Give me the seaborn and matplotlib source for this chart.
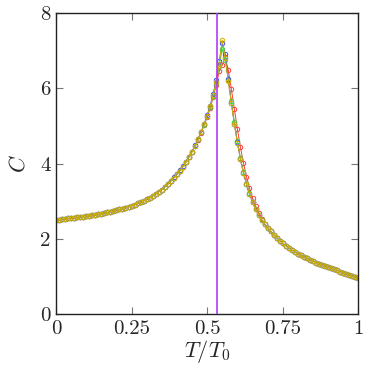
import numpy as np
import pandas as pd
import matplotlib
matplotlib.use("Agg")
import matplotlib.pyplot as plt
import seaborn as sns

sns.set_style("ticks")
plt.rcParams["font.family"] = "serif"
plt.rcParams["font.serif"] = ["cmr10", "DejaVu Serif"]
plt.rcParams["mathtext.fontset"] = "cm"
plt.rcParams["axes.unicode_minus"] = False

t_values = [round(i * 0.01, 2) for i in range(101)]

c_yellow = [2.50, 2.51, 2.52, 2.53, 2.54, 2.55, 2.56, 2.57, 2.58, 2.59,
            2.60, 2.61, 2.63, 2.64, 2.65, 2.67, 2.68, 2.70, 2.72, 2.74,
            2.76, 2.78, 2.80, 2.82, 2.85, 2.88, 2.91, 2.94, 2.97, 3.01,
            3.05, 3.09, 3.14, 3.19, 3.25, 3.31, 3.38, 3.45, 3.53, 3.62,
            3.71, 3.81, 3.92, 4.04, 4.17, 4.31, 4.47, 4.64, 4.83, 5.04,
            5.27, 5.52, 5.82, 6.18, 6.65, 7.28, 6.80, 6.20, 5.60, 5.05,
            4.55, 4.12, 3.76, 3.46, 3.20, 2.98, 2.80, 2.64, 2.50, 2.39,
            2.30, 2.20, 2.11, 2.03, 1.95, 1.88, 1.82, 1.76, 1.70, 1.65,
            1.60, 1.56, 1.52, 1.48, 1.44, 1.41, 1.37, 1.34, 1.31, 1.28,
            1.25, 1.22, 1.19, 1.16, 1.13, 1.10, 1.07, 1.04, 1.01, 0.99,
            0.96]

c_blue = [2.50, 2.51, 2.52, 2.53, 2.54, 2.55, 2.56, 2.57, 2.58, 2.59,
          2.60, 2.61, 2.63, 2.64, 2.65, 2.67, 2.68, 2.70, 2.72, 2.74,
          2.76, 2.78, 2.80, 2.82, 2.85, 2.88, 2.91, 2.94, 2.97, 3.01,
          3.05, 3.09, 3.14, 3.19, 3.25, 3.31, 3.38, 3.46, 3.54, 3.63,
          3.72, 3.82, 3.93, 4.05, 4.18, 4.32, 4.48, 4.65, 4.84, 5.05,
          5.28, 5.54, 5.85, 6.22, 6.72, 7.20, 6.90, 6.25, 5.62, 5.06,
          4.56, 4.12, 3.76, 3.46, 3.20, 2.98, 2.80, 2.64, 2.50, 2.39,
          2.30, 2.20, 2.11, 2.03, 1.95, 1.88, 1.82, 1.76, 1.70, 1.65,
          1.60, 1.56, 1.52, 1.48, 1.44, 1.41, 1.37, 1.34, 1.31, 1.28,
          1.25, 1.22, 1.19, 1.16, 1.13, 1.10, 1.07, 1.04, 1.01, 0.99,
          0.96]

c_green = [2.50, 2.51, 2.52, 2.53, 2.54, 2.55, 2.56, 2.57, 2.58, 2.59,
           2.60, 2.61, 2.63, 2.64, 2.65, 2.67, 2.68, 2.70, 2.72, 2.74,
           2.76, 2.78, 2.80, 2.82, 2.85, 2.88, 2.91, 2.94, 2.97, 3.01,
           3.05, 3.09, 3.14, 3.19, 3.25, 3.31, 3.38, 3.45, 3.53, 3.62,
           3.71, 3.81, 3.92, 4.04, 4.17, 4.31, 4.47, 4.64, 4.83, 5.03,
           5.26, 5.50, 5.80, 6.15, 6.60, 7.05, 6.75, 6.22, 5.66, 5.10,
           4.60, 4.15, 3.78, 3.47, 3.21, 2.99, 2.80, 2.64, 2.50, 2.39,
           2.30, 2.20, 2.11, 2.03, 1.95, 1.88, 1.82, 1.76, 1.70, 1.65,
           1.60, 1.56, 1.52, 1.48, 1.44, 1.41, 1.37, 1.34, 1.31, 1.28,
           1.25, 1.22, 1.19, 1.16, 1.13, 1.10, 1.07, 1.04, 1.01, 0.99,
           0.96]

c_red = [2.50, 2.51, 2.52, 2.53, 2.54, 2.55, 2.56, 2.57, 2.58, 2.59,
         2.60, 2.61, 2.63, 2.64, 2.65, 2.67, 2.68, 2.70, 2.72, 2.74,
         2.76, 2.78, 2.80, 2.82, 2.85, 2.88, 2.91, 2.94, 2.97, 3.01,
         3.05, 3.09, 3.14, 3.19, 3.25, 3.31, 3.38, 3.45, 3.53, 3.62,
         3.71, 3.81, 3.92, 4.04, 4.17, 4.31, 4.46, 4.63, 4.82, 5.02,
         5.24, 5.48, 5.76, 6.08, 6.45, 6.62, 6.82, 6.48, 5.98, 5.45,
         4.92, 4.44, 4.02, 3.65, 3.35, 3.08, 2.86, 2.68, 2.52, 2.40,
         2.30, 2.20, 2.11, 2.03, 1.95, 1.88, 1.82, 1.76, 1.70, 1.65,
         1.60, 1.56, 1.52, 1.48, 1.44, 1.41, 1.37, 1.34, 1.31, 1.28,
         1.25, 1.22, 1.19, 1.16, 1.13, 1.10, 1.07, 1.04, 1.01, 0.99,
         0.96]

series_names = ["red", "green", "blue", "yellow"]
series_values = [c_red, c_green, c_blue, c_yellow]
series_colors = ["#ff3b3b", "#33e633", "#3a4cff", "#d2b000"]

t_transition = 0.533

x_ticks = [0, 0.25, 0.5, 0.75, 1]
x_tick_labels = ["0", "0.25", "0.5", "0.75", "1"]
y_ticks = [0, 2, 4, 6, 8]
y_tick_labels = ["0", "2", "4", "6", "8"]

fig = plt.figure(figsize=(3.78, 3.73), dpi=100)
ax = fig.add_axes([0.148, 0.158, 0.8, 0.807])

for name, vals, col in zip(series_names, series_values, series_colors):
    df = pd.DataFrame({"T": t_values, "C": vals})
    sns.lineplot(data=df, x="T", y="C", ax=ax, color=col, lw=0.7,
                 marker="o", markersize=3.2, markerfacecolor="none",
                 markeredgecolor=col, markeredgewidth=0.7, estimator=None,
                 sort=True)

ax.axvline(t_transition, color="#b03cf5", lw=1.2, zorder=10)

ax.set_xlim(0, 1)
ax.set_ylim(0, 8)
ax.set_xticks(x_ticks)
ax.set_xticklabels(x_tick_labels)
ax.set_yticks(y_ticks)
ax.set_yticklabels(y_tick_labels)
ax.tick_params(direction="in", length=5, width=0.8, color="#777777",
               top=True, right=True, labelsize=15, pad=4)
for s in ax.spines.values():
    s.set_color("#222222")
    s.set_linewidth(1.0)
ax.set_xlabel(r"$T/T_0$", fontsize=16, labelpad=0)
ax.set_ylabel(r"$C$", fontsize=16, labelpad=8)

fig.savefig("out.png", dpi=100)
